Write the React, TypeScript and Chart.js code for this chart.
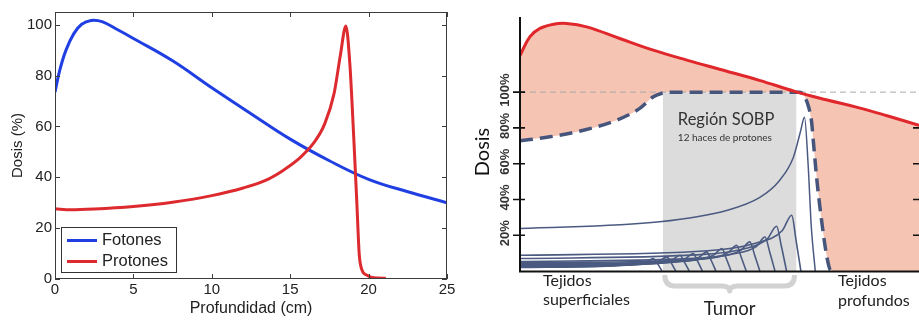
import React, { useEffect, useRef } from 'react';
import { Chart, registerables } from 'chart.js';

Chart.register(...registerables);

type Pt = [number, number];

// ---------------- Left panel (depth-dose, cm vs %) ----------------
const depthTicksCm = [0, 5, 10, 15, 20, 25];
const doseTicksPct = [0, 20, 40, 60, 80, 100];
const seriesLabels = ['Fotones', 'Protones'];
const axisTitleX = 'Profundidad (cm)';
const axisTitleY = 'Dosis (%)';

const photonCurve: Pt[] = [
  [0, 73.5], [0.3, 82], [0.7, 90], [1.2, 96.5], [1.7, 100.2], [2.3, 101.7], [3, 101.2],
  [4, 98], [5, 94.6], [7.5, 85.8], [10, 75.2], [12.5, 65], [15, 55], [17.5, 46.5],
  [20, 39.2], [22.5, 34.3], [25, 30],
];

const protonCurve: Pt[] = [
  [0, 27.6], [1, 27.2], [2.5, 27.5], [5, 28.5], [7.5, 30.2], [10, 32.8], [12, 35.8],
  [13.5, 39], [14.5, 42.5], [15.5, 47], [16.5, 53.5], [17.2, 61], [17.8, 73], [18.2, 88],
  [18.55, 99.5], [18.8, 85], [19.05, 56], [19.25, 30], [19.4, 10], [19.55, 4],
  [19.9, 1.5], [20.3, 0.5], [21.1, 0.3],
];

// ---------------- Right panel (SOBP schematic, relative depth vs %) ----------------
const sobpTickValues = [20, 40, 60, 80, 100];
const sobpTickLabels = ['20%', '40%', '60%', '80%', '100%'];
const sobpAxisTitle = 'Dosis';
const sobpTitle = 'Región SOBP';
const sobpSubtitle = '12 haces de protones';
const shallowLabel = ['Tejidos', 'superficiales'];
const tumorLabel = 'Tumor';
const deepLabel = ['Tejidos', 'profundos'];

const photonEntrance: Pt[] = [
  [0, 120.5], [2.5, 131], [5, 135.6], [8.4, 138], [11.7, 138.4], [16.7, 136.5], [25, 130],
  [33.4, 123.5], [41.8, 117.9], [50, 112.8], [60, 106.6], [69, 100.3], [77, 95.6], [85, 91.2],
  [92, 86.8], [100, 81.5],
];

const sobpCurve: Pt[] = [
  [0, 72.8], [7.5, 75], [15.9, 78.7], [24.2, 84.3], [30, 90.9], [33.4, 97.4], [35.9, 99.6],
  [37, 100], [70.2, 100], [71, 98.5], [72.3, 92], [73.1, 83], [73.5, 73], [74.4, 51],
  [75.6, 28], [76.9, 8], [77.8, 0.5], [78.5, 0],
];

const tumorSpan: Pt[] = [[35.8, 100], [69.3, 100]];
const prescriptionLine: Pt[] = [[0, 100], [100, 100]];

const pristinePeak: Pt[] = [
  [0, 23.7], [35, 27.5], [52, 34], [60, 41], [65, 50.5], [68.5, 63.5], [70.3, 78], [71.3, 86],
  [72.2, 60], [73, 25], [74, 0],
];
const beam1: Pt[] = [[0, 2.0], [20, 2.6], [28, 3.5], [31.5, 5], [33.4, 7.0], [34.5, 4], [35.6, 0]];
const beam2: Pt[] = [[0, 2.3], [22, 3.0], [31, 4.0], [35, 5.7], [36.8, 7.9], [37.9, 4.5], [39, 0]];
const beam3: Pt[] = [[0, 2.5], [25, 3.3], [34, 4.4], [38.2, 6.3], [40.1, 8.8], [41.2, 5], [42.4, 0]];
const beam4: Pt[] = [[0, 2.8], [27, 3.6], [37, 4.8], [41.5, 7], [43.4, 9.7], [44.5, 5.5], [45.7, 0]];
const beam5: Pt[] = [[0, 3.0], [30, 3.9], [40, 5.3], [44.9, 7.7], [46.8, 10.7], [47.9, 6], [49.1, 0]];
const beam6: Pt[] = [[0, 3.5], [33, 4.6], [44, 6.2], [48.6, 9], [50.6, 12.6], [51.7, 7], [52.9, 0]];
const beam7: Pt[] = [[0, 4.0], [36, 5.2], [47, 7.1], [52.2, 10.3], [54.3, 14.4], [55.4, 8], [56.7, 0]];
const beam8: Pt[] = [[0, 4.6], [39, 5.9], [50, 8.0], [55.4, 11.7], [57.6, 16.3], [58.8, 9], [60.1, 0]];
const beam9: Pt[] = [[0, 5.3], [42, 6.9], [53, 9.4], [59.2, 13.6], [61.4, 19], [62.6, 10.5], [63.9, 0]];
const beam10: Pt[] = [[0, 7.0], [44, 9.0], [56, 12.3], [62, 18], [64.3, 25], [65.5, 14], [66.8, 0]];
const beam11: Pt[] = [[0, 8.8], [47, 11.3], [59, 15.5], [65.7, 22.5], [68.1, 31.2], [69.2, 17], [70.4, 0]];
const smallBeams = [beam1, beam2, beam3, beam4, beam5, beam6, beam7, beam8, beam9, beam10, beam11];

const toXY = (a: Pt[]) => a.map(([x, y]) => ({ x, y }));

const LEFT_FONT = "'Liberation Sans', Arial, sans-serif";
const RIGHT_FONT = "Lato, 'Open Sans', sans-serif";

function LeftChart() {
  const ref = useRef<HTMLCanvasElement>(null);
  useEffect(() => {
    const colors = ['#1f3fe3', '#dc2a2e'];
    const framePlugin = {
      id: 'frameLegend',
      afterDatasetsDraw(chart: any) {
        const { ctx, chartArea: a, scales } = chart;
        const xs = scales.x, ys = scales.y;
        ctx.save();
        ctx.strokeStyle = '#3c3c3c';
        ctx.lineWidth = 1;
        ctx.strokeRect(a.left + 0.5, a.top + 0.5, a.right - a.left - 1, a.bottom - a.top - 1);
        ctx.beginPath();
        for (const v of depthTicksCm) {
          const px = Math.round(xs.getPixelForValue(v)) + 0.5;
          ctx.moveTo(px, a.bottom); ctx.lineTo(px, a.bottom - 5);
          ctx.moveTo(px, a.top); ctx.lineTo(px, a.top + 5);
        }
        for (const v of doseTicksPct) {
          const py = Math.round(ys.getPixelForValue(v)) + 0.5;
          ctx.moveTo(a.left, py); ctx.lineTo(a.left + 5, py);
          ctx.moveTo(a.right, py); ctx.lineTo(a.right - 5, py);
        }
        ctx.stroke();

        // legend box (lower-left, inside the plot)
        const bx = a.left + 6, by = a.bottom - 52, bw = 115, bh = 45;
        ctx.fillStyle = '#ffffff';
        ctx.fillRect(bx, by, bw, bh);
        ctx.strokeStyle = '#333';
        ctx.strokeRect(bx + 0.5, by + 0.5, bw, bh);
        ctx.font = `16.5px ${LEFT_FONT}`;
        ctx.textBaseline = 'middle';
        ctx.textAlign = 'left';
        chart.data.datasets.forEach((ds: any, i: number) => {
          const ly = by + 13.5 + i * 21;
          ctx.strokeStyle = ds.borderColor;
          ctx.lineWidth = 3;
          ctx.beginPath();
          ctx.moveTo(bx + 6, ly); ctx.lineTo(bx + 36, ly);
          ctx.stroke();
          ctx.fillStyle = '#222';
          ctx.fillText(ds.label, bx + 41, ly);
        });
        ctx.restore();
      },
    };

    const chart = new Chart(ref.current!, {
      type: 'line',
      data: {
        datasets: [
          {
            label: seriesLabels[0], data: toXY(photonCurve), borderColor: colors[0], borderWidth: 3,
            pointRadius: 0, tension: 0.4, fill: false, order: 2,
          },
          {
            label: seriesLabels[1], data: toXY(protonCurve), borderColor: colors[1], borderWidth: 3,
            pointRadius: 0, cubicInterpolationMode: 'monotone', fill: false, order: 1,
          },
        ],
      },
      options: {
        responsive: false,
        animation: false,
        events: [],
        layout: { padding: { top: 6, right: 13, left: 0, bottom: 0 } },
        plugins: { legend: { display: false }, tooltip: { enabled: false } },
        scales: {
          x: {
            type: 'linear', min: 0, max: 25,
            afterBuildTicks: (s: any) => { s.ticks = depthTicksCm.map((v) => ({ value: v })); },
            afterFit: (s: any) => { s.height = 41; },
            grid: { display: false, drawTicks: false },
            border: { display: false },
            ticks: { color: '#222', padding: 2, maxRotation: 0, font: { family: LEFT_FONT, size: 15 } },
            title: {
              display: true, text: axisTitleX, color: '#222',
              font: { family: LEFT_FONT, size: 16, lineHeight: 1.2 }, padding: { top: 0, bottom: 2 },
            },
          },
          y: {
            type: 'linear', min: 0, max: 105,
            afterBuildTicks: (s: any) => { s.ticks = doseTicksPct.map((v) => ({ value: v })); },
            afterFit: (s: any) => { s.width = 55; },
            grid: { display: false, drawTicks: false },
            border: { display: false },
            ticks: { color: '#222', padding: 3, font: { family: LEFT_FONT, size: 15 } },
            title: {
              display: true, text: axisTitleY, color: '#222',
              font: { family: LEFT_FONT, size: 15, lineHeight: 1.2 }, padding: { top: 9, bottom: 0 },
            },
          },
        },
      },
      plugins: [framePlugin],
    } as any);
    return () => chart.destroy();
  }, []);
  return <canvas ref={ref} width={460} height={320} style={{ width: 460, height: 320, display: 'block' }} />;
}

function RightChart() {
  const ref = useRef<HTMLCanvasElement>(null);
  useEffect(() => {
    const beamColor = '#4b5a80';
    const decor = {
      id: 'sobpDecor',
      afterDatasetsDraw(chart: any) {
        const { ctx, chartArea: a, scales } = chart;
        const xs = scales.x, ys = scales.y;
        ctx.save();

        // axes
        ctx.strokeStyle = '#111';
        ctx.lineWidth = 2;
        ctx.beginPath();
        ctx.moveTo(a.left, a.top); ctx.lineTo(a.left, a.bottom + 0.5); ctx.lineTo(a.right, a.bottom + 0.5);
        ctx.stroke();
        ctx.lineWidth = 1.6;
        ctx.beginPath();
        sobpTickValues.forEach((v) => {
          const py = ys.getPixelForValue(v);
          ctx.moveTo(a.left - 7, py); ctx.lineTo(a.left + 5, py);
          if (v < 100) { ctx.moveTo(a.right - 6, py); ctx.lineTo(a.right, py); }
        });
        ctx.stroke();

        // rotated tick labels
        ctx.fillStyle = '#333';
        ctx.font = `bold 13px 'Liberation Sans Narrow', 'Liberation Sans', Arial, sans-serif`;
        ctx.textAlign = 'center';
        ctx.textBaseline = 'middle';
        sobpTickValues.forEach((v, i) => {
          const py = ys.getPixelForValue(v);
          ctx.save();
          ctx.translate(a.left - 15, py - 2);
          ctx.rotate(-Math.PI / 2);
          ctx.fillText(sobpTickLabels[i], 0, 0);
          ctx.restore();
        });

        // axis title
        ctx.save();
        ctx.fillStyle = '#111';
        ctx.font = `20px ${RIGHT_FONT}`;
        ctx.translate(a.left - 37, 152);
        ctx.rotate(-Math.PI / 2);
        ctx.fillText(sobpAxisTitle, 0, 0);
        ctx.restore();

        // tumor brace
        const x0 = xs.getPixelForValue(tumorSpan[0][0]);
        const x1 = xs.getPixelForValue(tumorSpan[1][0]);
        const xm = (x0 + x1) / 2;
        const yb = a.bottom;
        ctx.strokeStyle = '#d2d2d2';
        ctx.lineWidth = 5;
        ctx.lineJoin = 'round';
        ctx.beginPath();
        ctx.moveTo(x0 + 2, yb + 4);
        ctx.quadraticCurveTo(x0 + 2, yb + 15, x0 + 12, yb + 15);
        ctx.lineTo(xm - 8, yb + 15);
        ctx.quadraticCurveTo(xm, yb + 15, xm, yb + 20);
        ctx.quadraticCurveTo(xm, yb + 15, xm + 8, yb + 15);
        ctx.lineTo(x1 - 12, yb + 15);
        ctx.quadraticCurveTo(x1 - 2, yb + 15, x1 - 2, yb + 4);
        ctx.stroke();

        // texts
        ctx.textAlign = 'left';
        ctx.textBaseline = 'alphabetic';
        ctx.fillStyle = '#222';
        ctx.font = `16px ${RIGHT_FONT}`;
        ctx.fillText(shallowLabel[0], a.left + 23, yb + 15);
        ctx.fillText(shallowLabel[1], a.left + 23, yb + 34);
        ctx.fillText(deepLabel[0], a.left + 318, yb + 15);
        ctx.fillText(deepLabel[1], a.left + 318, yb + 35);
        ctx.textAlign = 'center';
        ctx.font = `18.5px ${RIGHT_FONT}`;
        ctx.fillText(tumorLabel, xm, yb + 44);

        ctx.textAlign = 'left';
        ctx.fillStyle = '#333';
        ctx.font = `16.5px ${RIGHT_FONT}`;
        ctx.fillText(sobpTitle, x0 + 15, 125);
        ctx.font = `10px ${RIGHT_FONT}`;
        ctx.fillText(sobpSubtitle, x0 + 15, 140.5);
        ctx.restore();
      },
    };

    const line = (data: Pt[], extra: any) => ({
      data: toXY(data), pointRadius: 0, cubicInterpolationMode: 'monotone', fill: false, ...extra,
    });
    const smooth = { cubicInterpolationMode: 'default', tension: 0.4 };

    const chart = new Chart(ref.current!, {
      type: 'line',
      data: {
        datasets: [
          line(photonEntrance, { borderColor: '#e0272b', borderWidth: 3, order: 1, ...smooth }),
          line(sobpCurve, { borderColor: '#46557b', borderWidth: 3.5, borderDash: [13, 7], order: 2 }),
          line(pristinePeak, { borderColor: beamColor, borderWidth: 1.5, order: 3 }),
          ...smallBeams.map((b) => line(b, { borderColor: beamColor, borderWidth: 1.6, order: 4 })),
          line(prescriptionLine, { borderColor: '#a9a9a9', borderWidth: 1, borderDash: [6, 4], order: 6, cubicInterpolationMode: 'default', tension: 0 }),
          line(tumorSpan, { borderColor: 'rgba(0,0,0,0)', borderWidth: 0, backgroundColor: '#dcdcdc', fill: 'origin', order: 7, cubicInterpolationMode: 'default', tension: 0 }),
          line(sobpCurve, { borderColor: 'rgba(0,0,0,0)', borderWidth: 0, backgroundColor: '#ffffff', fill: 'origin', order: 8 }),
          line(photonEntrance, { borderColor: 'rgba(0,0,0,0)', borderWidth: 0, backgroundColor: '#f6c4b3', fill: 'origin', order: 9, ...smooth }),
        ],
      },
      options: {
        responsive: false,
        animation: false,
        events: [],
        layout: { padding: { top: 17, right: 0, left: 60, bottom: 49 } },
        plugins: { legend: { display: false }, tooltip: { enabled: false } },
        scales: {
          x: { type: 'linear', min: 0, max: 100, display: false },
          y: { type: 'linear', min: 0, max: 142, display: false },
        },
      },
      plugins: [decor],
    } as any);
    return () => chart.destroy();
  }, []);
  return <canvas ref={ref} width={459} height={320} style={{ width: 459, height: 320, display: 'block' }} />;
}

export default function App() {
  return (
    <div style={{ position: 'fixed', left: 0, top: 0, width: 919, height: 320, background: '#fff', display: 'flex' }}>
      <LeftChart />
      <RightChart />
    </div>
  );
}
